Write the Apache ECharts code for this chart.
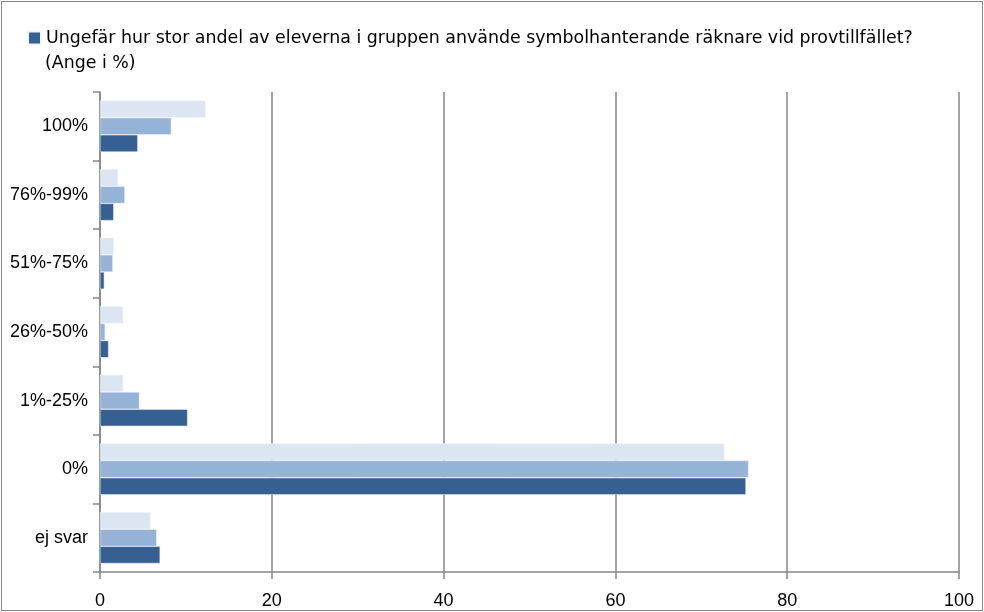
<!DOCTYPE html>
<html>
<head>
    <meta charset="utf-8">
    <title>Symbolhanterande räknare</title>
    <script src="https://cdn.jsdelivr.net/npm/echarts@6/dist/echarts.min.js"></script>
    <style>
        html, body { margin: 0; padding: 0; background: #fff; }
        #chart { width: 984px; height: 612px; }
    </style>
</head>
<body>
<div id="chart"></div>
<script type="text/javascript">
    // kategorier, nedifrån och upp
    var categories = ['ej svar', '0%', '1%-25%', '26%-50%', '51%-75%', '76%-99%', '100%'];
    var xTicks = [0, 20, 40, 60, 80, 100];

    // tre serier (bara den mörka visas i legenden)
    var lightValues = [5.9, 72.7, 2.7, 2.7, 1.6, 2.1, 12.3];
    var midValues = [6.6, 75.5, 4.6, 0.6, 1.5, 2.9, 8.3];
    var darkValues = [7.0, 75.2, 10.2, 1.0, 0.5, 1.6, 4.4];

    var questionLine1 = 'Ungefär hur stor andel av eleverna i gruppen använde symbolhanterande räknare vid provtillfället?';
    var questionLine2 = '(Ange i %)';

    var myChart = echarts.init(document.getElementById('chart'));

    var font = 'Liberation Sans, Arial, sans-serif';
    var legendFont = 'DejaVu Sans, sans-serif';

    myChart.setOption({
        animation: false,
        textStyle: { fontFamily: font },
        title: {
            text: questionLine2,
            left: 40,
            top: 50,
            textStyle: { fontSize: 17.4, fontWeight: 'normal', color: '#000', fontFamily: legendFont }
        },
        legend: {
            data: [questionLine1 + '\n' + questionLine2],
            formatter: function (name) { return name.split('\n')[0]; },
            left: 27,
            top: 28,
            padding: 0,
            itemWidth: 13,
            itemHeight: 13,
            icon: 'rect',
            textStyle: { fontSize: 17.4, color: '#000', lineHeight: 20, fontFamily: legendFont }
        },
        grid: { left: 100, right: 25, top: 92, bottom: 40 },
        xAxis: {
            type: 'value',
            min: xTicks[0],
            max: xTicks[xTicks.length - 1],
            interval: 20,
            axisLine: { show: true, lineStyle: { color: '#868686', width: 1.5 } },
            axisTick: { show: true, length: 7, lineStyle: { color: '#868686', width: 1.5 } },
            axisLabel: { color: '#000', fontSize: 18, margin: 20 },
            splitLine: { show: true, lineStyle: { color: '#868686', width: 1.5 } }
        },
        yAxis: {
            type: 'category',
            data: categories,
            axisLine: { show: true, lineStyle: { color: '#868686', width: 1.5 } },
            axisTick: { show: true, length: 7, lineStyle: { color: '#868686', width: 1.5 } },
            axisLabel: { color: '#000', fontSize: 18, margin: 12 },
            splitLine: { show: false }
        },
        series: [
            {
                name: 'serie 3',
                type: 'bar',
                data: lightValues,
                barGap: '0%',
                barCategoryGap: '25%',
                itemStyle: { color: '#dce6f2', borderColor: '#f2f5fa', borderWidth: 0.5 }
            },
            {
                name: 'serie 2',
                type: 'bar',
                data: midValues,
                barGap: '0%',
                barCategoryGap: '25%',
                itemStyle: { color: '#95b3d7', borderColor: '#f2f5fa', borderWidth: 0.5 }
            },
            {
                name: questionLine1 + '\n' + questionLine2,
                type: 'bar',
                data: darkValues,
                barGap: '0%',
                barCategoryGap: '25%',
                itemStyle: { color: '#376092', borderColor: '#f2f5fa', borderWidth: 0.5 }
            }
        ],
        graphic: [{
            type: 'rect',
            shape: { x: 1.5, y: 1.5, width: 981, height: 609 },
            style: { fill: null, stroke: '#868686', lineWidth: 1 },
            silent: true
        }]
    });
</script>
</body>
</html>
